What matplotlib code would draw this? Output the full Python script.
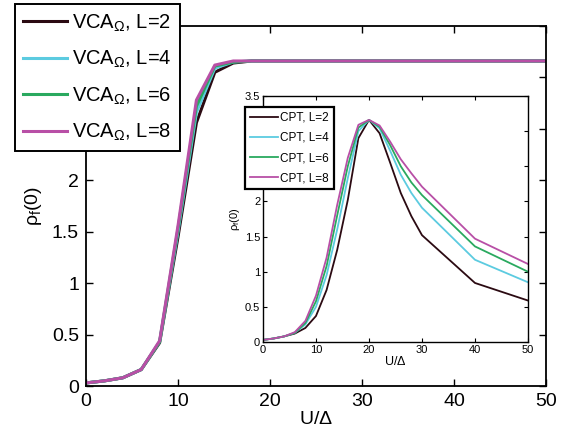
import matplotlib
matplotlib.use("Agg")
import matplotlib.pyplot as plt

plt.rcParams['font.family'] = ['Liberation Sans', 'DejaVu Sans']
plt.rcParams['mathtext.fontset'] = 'custom'
plt.rcParams['mathtext.rm'] = 'Liberation Sans'
plt.rcParams['mathtext.it'] = 'Liberation Sans'

# Main plot data (VCA_Omega)
U_main = [0, 2, 4, 6, 8, 10, 12, 14, 16, 18, 20, 30, 40, 50]
vca_L2 = [0.03, 0.05, 0.08, 0.16, 0.42, 1.45, 2.56, 3.05, 3.14, 3.16, 3.16, 3.16, 3.16, 3.16]
vca_L4 = [0.03, 0.05, 0.08, 0.16, 0.43, 1.50, 2.66, 3.09, 3.15, 3.16, 3.16, 3.16, 3.16, 3.16]
vca_L6 = [0.03, 0.05, 0.08, 0.16, 0.43, 1.53, 2.72, 3.11, 3.15, 3.16, 3.16, 3.16, 3.16, 3.16]
vca_L8 = [0.03, 0.05, 0.08, 0.16, 0.44, 1.56, 2.78, 3.12, 3.16, 3.16, 3.16, 3.16, 3.16, 3.16]

# Inset data (CPT)
U_in = [0, 2, 4, 6, 8, 10, 12, 14, 16, 18, 20, 22, 24, 26, 28, 30, 40, 50]
cpt_L2 = [0.03, 0.05, 0.08, 0.12, 0.20, 0.37, 0.74, 1.31, 2.02, 2.90, 3.16, 2.97, 2.55, 2.12, 1.79, 1.52, 0.84, 0.59]
cpt_L4 = [0.03, 0.05, 0.08, 0.13, 0.25, 0.50, 0.95, 1.60, 2.33, 3.00, 3.16, 3.04, 2.72, 2.38, 2.12, 1.91, 1.17, 0.85]
cpt_L6 = [0.03, 0.05, 0.08, 0.13, 0.27, 0.58, 1.08, 1.80, 2.50, 3.05, 3.16, 3.06, 2.80, 2.50, 2.27, 2.09, 1.36, 1.00]
cpt_L8 = [0.03, 0.05, 0.08, 0.14, 0.30, 0.66, 1.20, 1.95, 2.62, 3.09, 3.16, 3.08, 2.85, 2.60, 2.40, 2.21, 1.47, 1.11]

labels_main = [r'VCA$_\Omega$, L=2', r'VCA$_\Omega$, L=4', r'VCA$_\Omega$, L=6', r'VCA$_\Omega$, L=8']
labels_in = ['CPT, L=2', 'CPT, L=4', 'CPT, L=6', 'CPT, L=8']
colors = ['#2b0a12', '#5ccbe0', '#2aa95f', '#b84fa6']
yticks = [0, 0.5, 1, 1.5, 2, 2.5, 3, 3.5]
main_yticklabels = ['0', '0.5', '1', '1.5', '2', '', '', '']
inset_yticklabels = ['0', '0.5', '1', '1.5', '2', '', '', '3.5']

fig = plt.figure(figsize=(5.67, 4.4), dpi=100)
ax = fig.add_axes([0.1517, 0.1227, 0.8113, 0.8182])
lines = []
for y, c, lab in zip([vca_L2, vca_L4, vca_L6, vca_L8], colors, labels_main):
    l, = ax.plot(U_main, y, color=c, lw=2.2, label=lab)
    lines.append(l)
ax.set_xlim(0, 50)
ax.set_ylim(0, 3.5)
ax.set_xticks([0, 10, 20, 30, 40, 50])
ax.set_yticks(yticks)
ax.set_yticklabels(main_yticklabels)
ax.tick_params(direction='in', top=True, right=True, labelsize=14, length=5, width=1.0, pad=5)
for s in ax.spines.values():
    s.set_linewidth(1.3)
ax.set_xlabel(r'U/$\Delta$', fontsize=14, labelpad=1)
ax.set_ylabel(r'$\rho_\mathregular{f}$(0)', fontsize=14, labelpad=6)

leg = fig.legend(handles=lines, loc='upper left', bbox_to_anchor=(0.026, 0.99),
                 fontsize=14.5, frameon=True, fancybox=False, edgecolor='black',
                 handlelength=2.2, handletextpad=0.25, borderpad=0.4, labelspacing=0.75,
                 borderaxespad=0)
leg.get_frame().set_linewidth(1.4)
leg.get_frame().set_alpha(1)

ins = fig.add_axes([0.4638, 0.2227, 0.4674, 0.5591])
ilines = []
for y, c, lab in zip([cpt_L2, cpt_L4, cpt_L6, cpt_L8], colors, labels_in):
    l, = ins.plot(U_in, y, color=c, lw=1.3, label=lab)
    ilines.append(l)
ins.set_xlim(0, 50)
ins.set_ylim(0, 3.5)
ins.set_xticks([0, 10, 20, 30, 40, 50])
ins.set_yticks(yticks)
ins.set_yticklabels(inset_yticklabels)
ins.tick_params(direction='in', top=True, right=True, labelsize=8, length=3, width=0.8, pad=2)
for s in ins.spines.values():
    s.set_linewidth(1.0)
ins.set_xlabel(r'U/$\Delta$', fontsize=9, labelpad=0)
ins.set_ylabel(r'$\rho_\mathregular{f}$(0)', fontsize=8, labelpad=2)

ileg = ins.legend(handles=ilines, loc='upper left', bbox_to_anchor=(0.432, 0.757),
                  bbox_transform=fig.transFigure,
                  fontsize=8.5, frameon=True, fancybox=False, edgecolor='black',
                  handlelength=2.4, handletextpad=0.2, borderpad=0.4, labelspacing=0.7,
                  borderaxespad=0)
ileg.get_frame().set_linewidth(1.6)
ileg.get_frame().set_alpha(1)

fig.savefig('out.png', dpi=100)
